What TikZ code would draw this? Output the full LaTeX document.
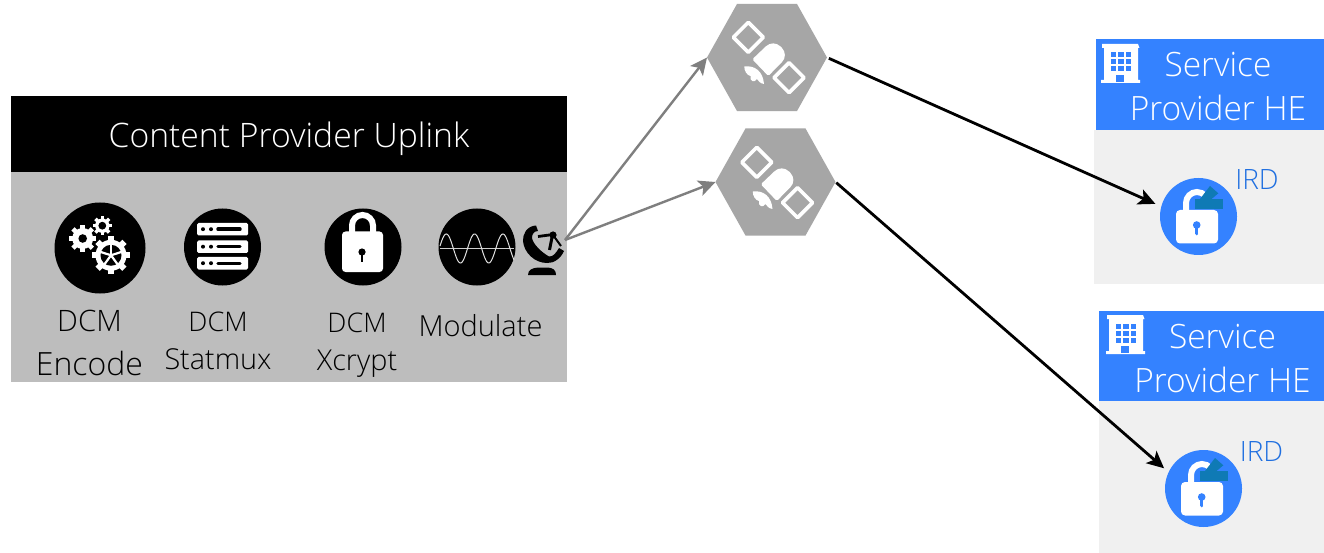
\documentclass[tikz,border=0pt]{standalone}
\usepackage{fontspec}
\setmainfont{Open Sans}[UprightFont=* Light]
\usetikzlibrary{shapes.geometric,arrows.meta}
\definecolor{bodygrey}{HTML}{BDBDBD}
\definecolor{hexgrey}{HTML}{A6A6A6}
\definecolor{wire}{HTML}{7F7F7F}
\definecolor{spblue}{HTML}{3482FF}
\definecolor{irdblue}{HTML}{1F6FE0}
\definecolor{panel}{HTML}{F0F0F0}
\definecolor{teal}{HTML}{0F7AB5}
\tikzset{
  x=1pt,y=-1pt,
  disc/.style={circle,fill=#1,inner sep=0pt,minimum size=77pt,outer sep=0pt},
  hexa/.style={regular polygon,regular polygon sides=6,fill=hexgrey,inner sep=0pt,minimum size=120pt,outer sep=0pt,yscale=1.03},
  lbl/.style={inner sep=0pt,align=center,text=#1},
  lbl/.default=black,
  uplinkarrow/.style={wire,line width=2.4pt,-{Stealth[length=17pt,width=16pt,inset=4pt]}},
  downarrow/.style={black,line width=2.8pt,-{Stealth[length=17pt,width=16pt,inset=4pt]}},
}
% gear: #1 centre, #2 outer radius, #3 body radius, #4 teeth, #5 tooth width
\newcommand{\gearicon}[5]{%
  \begin{scope}[shift={#1}]
    \fill[white] (0,0) circle[radius=#3];
    \foreach \a in {1,...,#4}{\fill[white,rotate=\a*360/#4] (-#5/2,0) rectangle (#5/2,#2);}
  \end{scope}}
% satellite glyph around the hexagon centre
\newcommand{\satglyph}[1]{%
  \begin{scope}[shift={#1}]
    \draw[white,line width=3.6pt,line join=round] (-33.7,-20.2) -- (-18.7,-35.2) -- (-3.7,-20.2) -- (-18.7,-5.2) -- cycle;
    \draw[white,line width=3.6pt,line join=round] (7,20.2) -- (22,5.2) -- (37,20.2) -- (22,35.2) -- cycle;
    \fill[white] (-14.7,1.8) [rounded corners=10pt] -- (6.3,-18.2) -- (22,-2.5) [rounded corners=1.5pt] -- (1.3,18.5) -- cycle;
    \fill[white] (-22.7,9) .. controls (-12,7.5) and (-4,14) .. (-3,26.5) .. controls (-7,26) and (-9,23) .. (-10,21.5) .. controls (-12,25.5) and (-18,24) .. (-16.5,18.5) .. controls (-20,18) and (-23,13) .. (-22.7,9) -- cycle;
  \end{scope}}
% open padlock in an IRD disc
\newcommand{\irdglyph}[1]{%
  \begin{scope}[shift={#1}]
    \draw[white,line width=6pt] (-12.5,-5) -- (-12.5,-13.5) arc[start angle=180,end angle=320,radius=11];
    \fill[white,rounded corners=4pt] (-22.5,-6.5) rectangle (19.5,27);
    \fill[spblue] (-1.8,8.5) circle[radius=3.8];
    \fill[spblue] (-3.1,8.5) rectangle (-0.5,17.5);
    \fill[spblue] (-1.8,17.5) circle[radius=1.3];
    \fill[teal] (-3.5,-17.5) rectangle (24.5,-7.5);
    \fill[teal] (1.5,-17.5) -- (11.5,-30.5) -- (19.8,-23.2) -- (13,-17.5) -- cycle;
  \end{scope}}
% building glyph
\newcommand{\buildingglyph}[1]{%
  \begin{scope}[shift={#1}]
    \fill[white] (0,0) -- (36,0) -- (37.5,4) -- (36,4) -- (36,36) -- (38,36) -- (38,39) -- (-1,39) -- (-1,36) -- (2,36) -- (2,4) -- (0,4) -- cycle;
    \foreach \i in {0,1,2}\foreach \j in {0,1,2}{\fill[spblue] (8.5+\i*7.5,8.5+\j*7) rectangle ++(5.5,5);}
    \fill[spblue] (14,31) rectangle (22.3,37.7);
  \end{scope}}
\begin{document}
\begin{tikzpicture}
\useasboundingbox (0,0) rectangle (1324,553);
\fill[white] (0,0) rectangle (1324,553);

% uplink panel
\fill[black] (11,96) rectangle (567,172);
\fill[bodygrey] (11,172) rectangle (567,382);
\node[lbl=white,font=\fontsize{33.7}{38}\selectfont] (title) at (289,138.5) {Content Provider Uplink};

\node[disc=black,minimum size=91pt] (encode) at (100,248) {};
\node[disc=black] (statmux) at (222.5,247) {};
\node[disc=black] (xcrypt) at (363,247) {};
\node[disc=black] (modulate) at (477,247) {};

% gears
\gearicon{(102.3,225.7)}{9.7}{7.2}{8}{3.4}
\fill[black] (102.3,225.7) circle[radius=3.9];
\gearicon{(82.7,238.5)}{13.7}{10.5}{8}{4.6}
\fill[black] (82.7,238.5) circle[radius=4.3];
\gearicon{(111,255.3)}{19}{15.5}{8}{6}
\fill[black] (111,255.3) circle[radius=10.5];
\foreach \a in {270,342,54,126,198}{\draw[white,line width=2.2pt] (111,255.3) -- ++(\a:11);}

% server
\foreach \y in {223,240.5,257}{
  \fill[white,rounded corners=1.5pt] (197,\y) rectangle (248,\y+12.5);
  \fill[black] (203,\y+6.2) circle[radius=2];
  \fill[black] (211,\y+6.2) circle[radius=2];
  \draw[black,line width=3.4pt,line cap=round] (218,\y+6.2) -- (240,\y+6.2);
}

% locked padlock
\draw[white,line width=6pt] (352,234) -- (352,225.5) arc[start angle=180,end angle=360,radius=10.5] -- (373,234);
\fill[white,rounded corners=3.5pt] (342,231.5) rectangle (383,272);
\fill[black] (362,252) circle[radius=3.6];
\fill[black] (360.8,252) rectangle (363.2,262);

% wave
\draw[white!25!bodygrey,line width=1.2pt] (440,248.5) -- (514,248.5);
\draw[white!55!bodygrey,line width=1pt,domain=0:74,samples=120,smooth] plot ({440+\x},{248.5-14.5*sin(\x/28.3*360+10)});

% dish
\fill[black] (528,275) .. controls (528,270) and (532,268) .. (538,267.5) -- (548,267.5) .. controls (553,268) and (556,270) .. (556,275) -- cycle;
\fill[black] (536,225.5) .. controls (527,226) and (522.5,234) .. (523,241) .. controls (524,253) and (535,263) .. (547,263) .. controls (554,263.5) and (561,258) .. (564,251) -- (559,248) .. controls (556,253) and (553,257) .. (549,256.5) .. controls (541,252) and (533,244) .. (532,238) .. controls (532,234) and (534,231) .. (538,231) -- cycle;
\draw[black,line width=2.8pt] (538,236.5) -- (553,234.5);
\draw[black,line width=3pt] (552.5,235) -- (549.5,250);
\draw[black,line width=2pt] (553,235) -- (561,246);
\fill[black] (553,235) circle[radius=3.6];
\coordinate (dish) at (565,240);

% satellites
\node[hexa] (sat1) at (767,57.5) {};
\node[hexa] (sat2) at (775.5,182) {};
\satglyph{(767,57.5)}
\satglyph{(775.5,182.5)}

% service provider 1
\fill[panel] (1094,130) rectangle (1324,284);
\fill[spblue] (1096,39) rectangle (1324,130);
\buildingglyph{(1102,44)}
\node[lbl=white,font=\fontsize{33.5}{44}\selectfont] (sp1) at (1218,87) {Service\\Provider HE};
\node[disc=spblue] (ird1) at (1198.5,216.5) {};
\irdglyph{(1198.5,216.5)}
\node[lbl=irdblue,font=\fontsize{28}{32}\selectfont] (irdlabel1) at (1257,180) {IRD};

% service provider 2
\fill[panel] (1099,401) rectangle (1324,553);
\fill[spblue] (1099,311) rectangle (1324,401);
\buildingglyph{(1107,315)}
\node[lbl=white,font=\fontsize{33.5}{44}\selectfont] (sp2) at (1222.5,359) {Service\\Provider HE};
\node[disc=spblue] (ird2) at (1203.5,488.5) {};
\irdglyph{(1203.5,488.5)}
\node[lbl=irdblue,font=\fontsize{28}{32}\selectfont] (irdlabel2) at (1261.5,452) {IRD};

% labels
\node[lbl,font=\fontsize{32}{44}\selectfont] (encodelabel) at (89.5,343) {{\fontsize{29.5}{44}\selectfont DCM}\\Encode};
\node[lbl,font=\fontsize{28.8}{38}\selectfont] (statmuxlabel) at (218,341) {{\fontsize{27}{38}\selectfont DCM}\\Statmux};
\node[lbl,font=\fontsize{28.8}{38}\selectfont] (xcryptlabel) at (357,345) {{\fontsize{27}{38}\selectfont DCM}\\Xcrypt};
\node[lbl,font=\fontsize{29}{34}\selectfont] (modlabel) at (480.5,326) {Modulate};

% connectors
\draw[uplinkarrow] (dish) -- (sat1.west);
\draw[uplinkarrow] (dish) -- (sat2.west);
\draw[downarrow,shorten <=2pt,shorten >=6.5pt] (sat1.east) -- (ird1.165);
\draw[downarrow,shorten <=1pt,shorten >=6pt] (sat2.east) -- (ird2.155);
\end{tikzpicture}
\end{document}
